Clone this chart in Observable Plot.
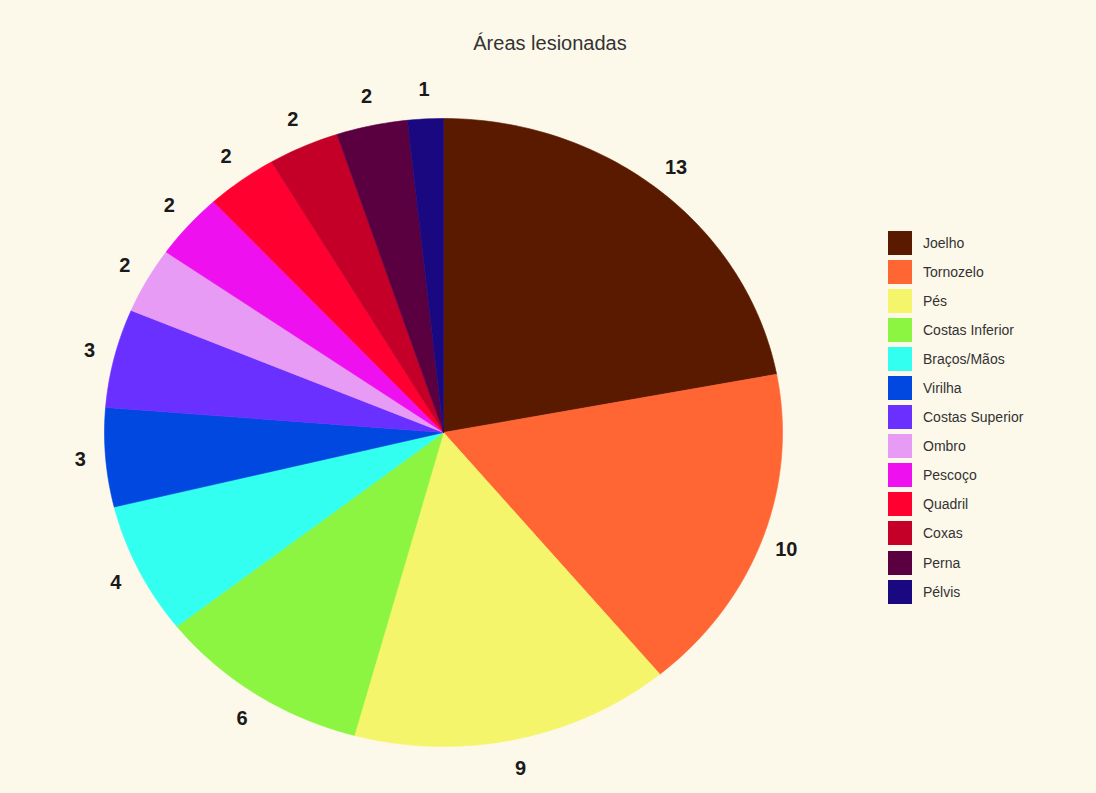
<!DOCTYPE html>
<html>
<head>
<meta charset="utf-8">
<script src="https://cdn.jsdelivr.net/npm/d3@7"></script>
<script src="https://cdn.jsdelivr.net/npm/@observablehq/plot@0.6"></script>
<style>
  html, body { margin: 0; padding: 0; background: #fdf9ea; }
  #wrap { position: relative; width: 1096px; height: 793px; font-family: "Liberation Sans", Arial, sans-serif; }
  #title { position: absolute; left: 0; width: 1100px; top: 32px; text-align: center; font-size: 20px; color: #333; }
  #legend { position: absolute; left: 888px; top: 228px; }
  .row { display: flex; align-items: center; height: 29.1px; }
  .sw { width: 24px; height: 24px; margin-right: 11px; }
  .lab { font-size: 14px; color: #333; }
  #chart { position: absolute; left: 0; top: 0; }
</style>
</head>
<body>
<div id="wrap">
  <div id="chart"></div>
  <div id="title"></div>
  <div id="legend"></div>
</div>
<script>
const title = "Áreas lesionadas";
const categories = ["Joelho", "Tornozelo", "Pés", "Costas Inferior", "Braços/Mãos", "Virilha", "Costas Superior", "Ombro", "Pescoço", "Quadril", "Coxas", "Perna", "Pélvis"];
const values = [13, 10, 9, 6, 4, 3, 3, 2, 2, 2, 2, 2, 1];
const colors = ["#5a1a00", "#ff6633", "#f5f56c", "#8cf542", "#33fff0", "#0048e0", "#6a30ff", "#e89bf5", "#ee10ee", "#ff0030", "#c40028", "#5a0040", "#1a0880"];

document.getElementById("title").textContent = title;

const total = d3.sum(values);
// slice angles, clockwise from 12 o'clock
let acc = 0;
const slices = values.map((v, i) => {
  const a0 = acc / total * 2 * Math.PI;
  acc += v;
  const a1 = acc / total * 2 * Math.PI;
  return {cat: categories[i], value: v, a0, a1};
});

const polyPts = [];
for (const s of slices) {
  polyPts.push({cat: s.cat, x: 0, y: 0});
  const n = Math.max(2, Math.ceil((s.a1 - s.a0) / (Math.PI / 180)));
  for (let k = 0; k <= n; k++) {
    const a = s.a0 + (s.a1 - s.a0) * k / n;
    polyPts.push({cat: s.cat, x: Math.sin(a), y: Math.cos(a)});
  }
  polyPts.push({cat: s.cat, x: 0, y: 0});
}

const labelRx = 1.075, labelRy = 1.095;
const labels = slices.map(s => {
  const m = (s.a0 + s.a1) / 2;
  return {x: labelRx * Math.sin(m), y: labelRy * Math.cos(m), text: String(s.value)};
});

const plot = Plot.plot({
  width: 1096,
  height: 793,
  margin: 0,
  style: {background: "transparent", fontFamily: "Liberation Sans, Arial, sans-serif"},
  x: {domain: [-1, 1], range: [104, 782], axis: null},
  y: {domain: [-1, 1], range: [746, 118], axis: null},
  color: {domain: categories, range: colors},
  marks: [
    Plot.line(polyPts, {x: "x", y: "y", z: "cat", fill: "cat", stroke: "cat", strokeWidth: 0.6, curve: "linear"}),
    Plot.text(labels, {x: "x", y: "y", text: "text", fontSize: 20, fontWeight: "bold", fill: "#1a1a1a"})
  ]
});
document.getElementById("chart").appendChild(plot);

const legend = document.getElementById("legend");
categories.forEach((c, i) => {
  const row = document.createElement("div");
  row.className = "row";
  const sw = document.createElement("div");
  sw.className = "sw";
  sw.style.background = colors[i];
  const lab = document.createElement("span");
  lab.className = "lab";
  lab.textContent = c;
  row.appendChild(sw);
  row.appendChild(lab);
  legend.appendChild(row);
});
</script>
</body>
</html>
